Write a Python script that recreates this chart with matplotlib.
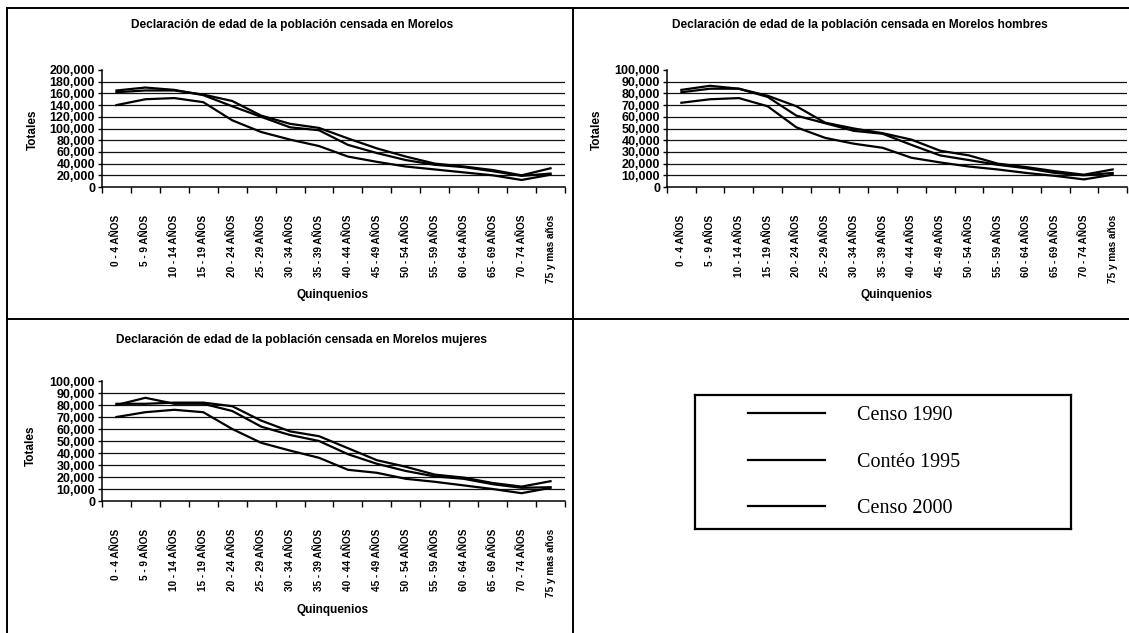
import matplotlib
matplotlib.use("Agg")
import matplotlib.pyplot as plt
from matplotlib.lines import Line2D
from matplotlib.ticker import FuncFormatter, FixedLocator
import numpy as np

categories = ["0 - 4 AÑOS", "5 - 9 AÑOS", "10 - 14 AÑOS", "15 - 19 AÑOS",
              "20 - 24 AÑOS", "25 - 29 AÑOS", "30 - 34 AÑOS", "35 - 39 AÑOS",
              "40 - 44 AÑOS", "45 - 49 AÑOS", "50 - 54 AÑOS", "55 - 59 AÑOS",
              "60 - 64 AÑOS", "65 - 69 AÑOS", "70 - 74 AÑOS", "75 y mas años"]

series_labels = ["Censo 1990", "Contéo 1995", "Censo 2000"]

total_1990 = [140000, 150000, 152000, 145000, 114000, 94000, 81000, 70000,
              52000, 43000, 35000, 30000, 25000, 20000, 12000, 21000]
total_1995 = [165000, 170000, 166000, 157000, 138000, 120000, 102000, 97000,
              72000, 58000, 46000, 38000, 34000, 27000, 19000, 23000]
total_2000 = [162000, 165000, 165000, 158000, 147000, 122000, 108000, 101000,
              83000, 66000, 52000, 40000, 35000, 29000, 20000, 32000]

hombres_1990 = [72000, 75000, 76000, 69000, 51000, 42000, 37000, 33500,
                25000, 21000, 17500, 15000, 12000, 9500, 6500, 10500]
hombres_1995 = [83000, 86500, 84000, 77000, 61000, 54500, 48000, 45500,
                36000, 27000, 23000, 19000, 16000, 12000, 10000, 12000]
hombres_2000 = [81000, 84000, 84000, 78000, 69000, 55000, 50000, 46000,
                40500, 31000, 27000, 20000, 17000, 13500, 10500, 15000]

mujeres_1990 = [70000, 74000, 76000, 74000, 60000, 48500, 42000, 36000,
                26000, 23500, 18500, 16000, 13000, 10000, 6500, 11000]
mujeres_1995 = [80000, 86000, 81000, 81000, 75000, 62000, 55000, 50000,
                39000, 31000, 25000, 20500, 18500, 14000, 11000, 11500]
mujeres_2000 = [81000, 81000, 82000, 82000, 79000, 67000, 58000, 54000,
                44000, 34000, 28500, 22000, 19500, 15000, 12000, 16500]

titles = ["Declaración de edad de la población censada en Morelos",
          "Declaración de edad de la población censada en Morelos hombres",
          "Declaración de edad de la población censada en Morelos mujeres"]

W, H = 1129, 633
fig = plt.figure(figsize=(W / 100, H / 100), dpi=100)
fig.patch.set_facecolor("white")

narrow = ["Liberation Sans Narrow", "Liberation Sans", "DejaVu Sans"]
sans = ["Liberation Sans", "DejaVu Sans"]
serif = ["Liberation Serif", "DejaVu Serif"]


def px_rect(x0, y0, x1, y1):
    return [x0 / W, 1 - y1 / H, (x1 - x0) / W, (y1 - y0) / H]


def make_panel(rect, data, ymax, step, title, title_xy, ylab_xy, xlab_xy):
    ax = fig.add_axes(px_rect(*rect))
    x = np.arange(len(categories))
    for s in data:
        ax.plot(x, s, color="black", lw=1.6, solid_joinstyle="round")
    ax.set_xlim(-0.5, len(categories) - 0.5)
    ax.set_ylim(0, ymax)
    yt = np.arange(0, ymax + 1, step)
    ax.set_yticks(yt)
    ax.yaxis.set_major_formatter(FuncFormatter(lambda v, p: f"{int(v):,}"))
    for v in yt[1:-1]:
        ax.axhline(v, color="#111111", lw=0.9, zorder=0)
    ax.set_xticks(x)
    ax.set_xticklabels(categories, rotation=90, fontfamily=narrow,
                       fontweight="bold", fontsize=7.2)
    ax.xaxis.set_minor_locator(FixedLocator(np.arange(-0.5, len(categories), 1)))
    ax.tick_params(axis="x", which="major", length=0, pad=20)
    ax.tick_params(axis="x", which="minor", length=4, width=1, direction="out")
    ax.tick_params(axis="y", length=3, width=1, pad=2)
    for lbl in ax.get_yticklabels():
        lbl.set_fontfamily(sans)
        lbl.set_fontweight("bold")
        lbl.set_fontsize(9)
    for sp in ["top", "right"]:
        ax.spines[sp].set_visible(False)
    for sp in ["left", "bottom"]:
        ax.spines[sp].set_linewidth(1.1)
    fig.text(title_xy[0] / W, 1 - title_xy[1] / H, title, ha="center",
             va="center", fontfamily=sans, fontweight="bold", fontsize=8.6)
    fig.text(ylab_xy[0] / W, 1 - ylab_xy[1] / H, "Totales", rotation=90,
             ha="center", va="center", fontfamily=narrow, fontweight="bold",
             fontsize=8.5)
    fig.text(xlab_xy[0] / W, 1 - xlab_xy[1] / H, "Quinquenios", ha="center",
             va="center", fontfamily=sans, fontweight="bold", fontsize=8.5)
    return ax


ax1 = make_panel((102, 70, 565, 187), [total_1990, total_1995, total_2000],
                 200000, 20000, titles[0], (292, 25), (33, 130), (333, 295))
ax2 = make_panel((667, 70, 1127, 187), [hombres_1990, hombres_1995, hombres_2000],
                 100000, 10000, titles[1], (860, 25), (597, 130), (897, 295))
ax3 = make_panel((102, 381, 565, 501), [mujeres_1990, mujeres_1995, mujeres_2000],
                 100000, 10000, titles[2], (302, 340), (31, 446), (333, 610))

# panel frame lines
frame_kw = dict(color="black", lw=1.4, transform=fig.transFigure)
fig.add_artist(Line2D([7 / W, 1], [1 - 8 / H, 1 - 8 / H], **frame_kw))
fig.add_artist(Line2D([7 / W, 7 / W], [1 - 8 / H, 0], **frame_kw))
fig.add_artist(Line2D([573 / W, 573 / W], [1 - 8 / H, 0], **frame_kw))
fig.add_artist(Line2D([7 / W, 1], [1 - 319 / H, 1 - 319 / H], **frame_kw))

# legend box
axl = fig.add_axes(px_rect(695, 395, 1071, 529))
axl.set_xticks([])
axl.set_yticks([])
for sp in axl.spines.values():
    sp.set_linewidth(1.6)
handles = ax1.get_lines()[:3]
axl.legend(handles, series_labels, loc="center left",
           bbox_to_anchor=(0.115, 0.5), frameon=False, borderpad=0,
           handlelength=3.8, handletextpad=1.6, labelspacing=1.35,
           prop=dict(family=serif, size=14.5))

fig.savefig("out.png", dpi=100, facecolor="white")
